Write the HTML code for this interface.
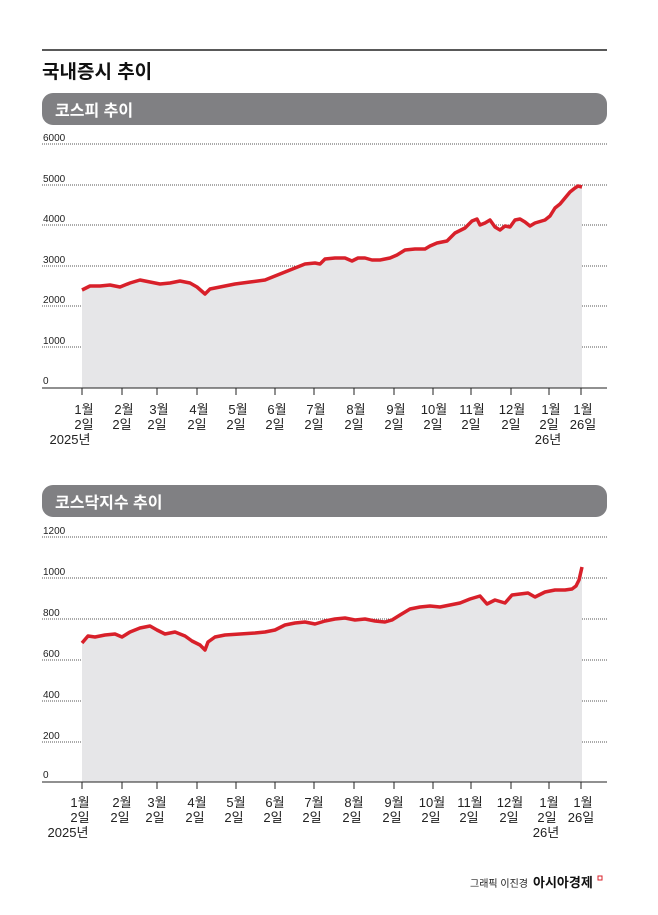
<!DOCTYPE html>
<html><head><meta charset="utf-8"><style>
body{margin:0;background:#fff;}
svg{display:block;font-family:"Liberation Sans","Noto Sans CJK KR",sans-serif;}
</style></head><body>
<svg width="658" height="915" viewBox="0 0 658 915">
<line x1="42" y1="50" x2="607" y2="50" stroke="#222" stroke-width="1.5"/>
<text x="42" y="78" font-size="19" font-weight="bold" fill="#111">국내증시 추이</text>
<rect x="42" y="93" width="565" height="32" rx="11" fill="#808083"/>
<text x="55" y="116" font-size="16" font-weight="bold" fill="#fff">코스피 추이</text>
<g stroke="#555" stroke-width="1" stroke-dasharray="1,1">
<line x1="42" y1="144" x2="607" y2="144"/><line x1="42" y1="185" x2="607" y2="185"/>
<line x1="42" y1="225" x2="607" y2="225"/><line x1="42" y1="266" x2="607" y2="266"/>
<line x1="42" y1="306" x2="607" y2="306"/><line x1="42" y1="347" x2="607" y2="347"/>
</g>
<g font-size="10" fill="#222">
<text x="43" y="141">6000</text><text x="43" y="182">5000</text><text x="43" y="222">4000</text>
<text x="43" y="263">3000</text><text x="43" y="303">2000</text><text x="43" y="344">1000</text><text x="43" y="384">0</text>
</g>
<polygon fill="#e6e6e8" points="82,388 82,290 90,286 100,286 110,285 120,287 130,283 140,280 150,282 160,284 170,283 180,281 190,283 197,287 205,294 210,289 220,287 235,284 250,282 265,280 275,276 285,272 295,268 305,264 315,263 320,264 325,259 335,258 345,258 352,261 358,258 365,258 372,260 380,260 390,258 397,255 405,250 415,249 425,249 430,246 437,243 447,241 455,233 465,228 472,221 477,219 480,225 485,223 490,220 495,227 500,230 505,226 510,227 515,220 520,219 525,222 530,226 535,223 545,220 550,216 555,208 560,204 565,198 570,192 575,188 578,186 582,187 582,388"/>
<polyline fill="none" stroke="#d8202a" stroke-width="3.5" stroke-linejoin="round" points="82,290 90,286 100,286 110,285 120,287 130,283 140,280 150,282 160,284 170,283 180,281 190,283 197,287 205,294 210,289 220,287 235,284 250,282 265,280 275,276 285,272 295,268 305,264 315,263 320,264 325,259 335,258 345,258 352,261 358,258 365,258 372,260 380,260 390,258 397,255 405,250 415,249 425,249 430,246 437,243 447,241 455,233 465,228 472,221 477,219 480,225 485,223 490,220 495,227 500,230 505,226 510,227 515,220 520,219 525,222 530,226 535,223 545,220 550,216 555,208 560,204 565,198 570,192 575,188 578,186 582,187"/>
<line x1="42" y1="388" x2="607" y2="388" stroke="#222" stroke-width="1"/>
<g stroke="#222"><line x1="82" y1="388" x2="82" y2="395"/><line x1="122" y1="388" x2="122" y2="395"/><line x1="157" y1="388" x2="157" y2="395"/><line x1="197" y1="388" x2="197" y2="395"/><line x1="236" y1="388" x2="236" y2="395"/><line x1="275" y1="388" x2="275" y2="395"/><line x1="314" y1="388" x2="314" y2="395"/><line x1="354" y1="388" x2="354" y2="395"/><line x1="394" y1="388" x2="394" y2="395"/><line x1="433" y1="388" x2="433" y2="395"/><line x1="471" y1="388" x2="471" y2="395"/><line x1="511" y1="388" x2="511" y2="395"/><line x1="549" y1="388" x2="549" y2="395"/><line x1="581" y1="388" x2="581" y2="395"/></g>
<g font-size="13" fill="#222" text-anchor="middle">
<text x="84" y="414">1월</text><text x="84" y="429">2일</text><text x="70" y="444">2025년</text>
<text x="124" y="414">2월</text><text x="122" y="429">2일</text>
<text x="159" y="414">3월</text><text x="157" y="429">2일</text>
<text x="199" y="414">4월</text><text x="197" y="429">2일</text>
<text x="238" y="414">5월</text><text x="236" y="429">2일</text>
<text x="277" y="414">6월</text><text x="275" y="429">2일</text>
<text x="316" y="414">7월</text><text x="314" y="429">2일</text>
<text x="356" y="414">8월</text><text x="354" y="429">2일</text>
<text x="396" y="414">9월</text><text x="394" y="429">2일</text>
<text x="434" y="414">10월</text><text x="433" y="429">2일</text>
<text x="472" y="414">11월</text><text x="471" y="429">2일</text>
<text x="512" y="414">12월</text><text x="511" y="429">2일</text>
<text x="551" y="414">1월</text><text x="549" y="429">2일</text><text x="548" y="444">26년</text>
<text x="583" y="414">1월</text><text x="583" y="429">26일</text>
</g>

<rect x="42" y="485" width="565" height="32" rx="11" fill="#808083"/>
<text x="55" y="508" font-size="16" font-weight="bold" fill="#fff">코스닥지수 추이</text>
<g stroke="#555" stroke-width="1" stroke-dasharray="1,1">
<line x1="42" y1="537" x2="607" y2="537"/><line x1="42" y1="578" x2="607" y2="578"/>
<line x1="42" y1="619" x2="607" y2="619"/><line x1="42" y1="660" x2="607" y2="660"/>
<line x1="42" y1="701" x2="607" y2="701"/><line x1="42" y1="742" x2="607" y2="742"/>
</g>
<g font-size="10" fill="#222">
<text x="43" y="534">1200</text><text x="43" y="575">1000</text><text x="43" y="616">800</text>
<text x="43" y="657">600</text><text x="43" y="698">400</text><text x="43" y="739">200</text><text x="43" y="778">0</text>
</g>
<polygon fill="#e6e6e8" points="82,782 82,643 88,636 95,637 105,635 115,634 122,637 130,632 140,628 150,626 157,630 165,634 175,632 185,636 192,641 200,645 205,650 208,642 215,637 225,635 240,634 255,633 265,632 275,630 285,625 295,623 305,622 315,624 325,621 335,619 345,618 355,620 365,619 375,621 385,622 392,620 400,615 410,609 420,607 430,606 440,607 450,605 460,603 470,599 480,596 487,604 495,600 505,603 512,595 520,594 528,593 535,597 545,592 555,590 565,590 572,589 576,586 579,580 582,567 582,782"/>
<polyline fill="none" stroke="#d8202a" stroke-width="3.5" stroke-linejoin="round" points="82,643 88,636 95,637 105,635 115,634 122,637 130,632 140,628 150,626 157,630 165,634 175,632 185,636 192,641 200,645 205,650 208,642 215,637 225,635 240,634 255,633 265,632 275,630 285,625 295,623 305,622 315,624 325,621 335,619 345,618 355,620 365,619 375,621 385,622 392,620 400,615 410,609 420,607 430,606 440,607 450,605 460,603 470,599 480,596 487,604 495,600 505,603 512,595 520,594 528,593 535,597 545,592 555,590 565,590 572,589 576,586 579,580 582,567"/>
<line x1="42" y1="782" x2="607" y2="782" stroke="#222" stroke-width="1"/>
<g stroke="#222"><line x1="82" y1="782" x2="82" y2="789"/><line x1="122" y1="782" x2="122" y2="789"/><line x1="157" y1="782" x2="157" y2="789"/><line x1="197" y1="782" x2="197" y2="789"/><line x1="236" y1="782" x2="236" y2="789"/><line x1="275" y1="782" x2="275" y2="789"/><line x1="314" y1="782" x2="314" y2="789"/><line x1="354" y1="782" x2="354" y2="789"/><line x1="394" y1="782" x2="394" y2="789"/><line x1="433" y1="782" x2="433" y2="789"/><line x1="471" y1="782" x2="471" y2="789"/><line x1="511" y1="782" x2="511" y2="789"/><line x1="549" y1="782" x2="549" y2="789"/><line x1="581" y1="782" x2="581" y2="789"/></g>
<g font-size="13" fill="#222" text-anchor="middle">
<text x="80" y="807">1월</text><text x="80" y="822">2일</text><text x="68" y="837">2025년</text>
<text x="122" y="807">2월</text><text x="120" y="822">2일</text>
<text x="157" y="807">3월</text><text x="155" y="822">2일</text>
<text x="197" y="807">4월</text><text x="195" y="822">2일</text>
<text x="236" y="807">5월</text><text x="234" y="822">2일</text>
<text x="275" y="807">6월</text><text x="273" y="822">2일</text>
<text x="314" y="807">7월</text><text x="312" y="822">2일</text>
<text x="354" y="807">8월</text><text x="352" y="822">2일</text>
<text x="394" y="807">9월</text><text x="392" y="822">2일</text>
<text x="432" y="807">10월</text><text x="431" y="822">2일</text>
<text x="470" y="807">11월</text><text x="469" y="822">2일</text>
<text x="510" y="807">12월</text><text x="509" y="822">2일</text>
<text x="549" y="807">1월</text><text x="547" y="822">2일</text><text x="546" y="837">26년</text>
<text x="583" y="807">1월</text><text x="581" y="822">26일</text>
</g>
<text x="528" y="887" font-size="10" fill="#222" text-anchor="end">그래픽 이진경</text>
<text x="533" y="887" font-size="13" font-weight="bold" fill="#111">아시아경제</text>
<rect x="598" y="876" width="4" height="4" fill="none" stroke="#d8202a" stroke-width="1"/>
</svg>
</body></html>
